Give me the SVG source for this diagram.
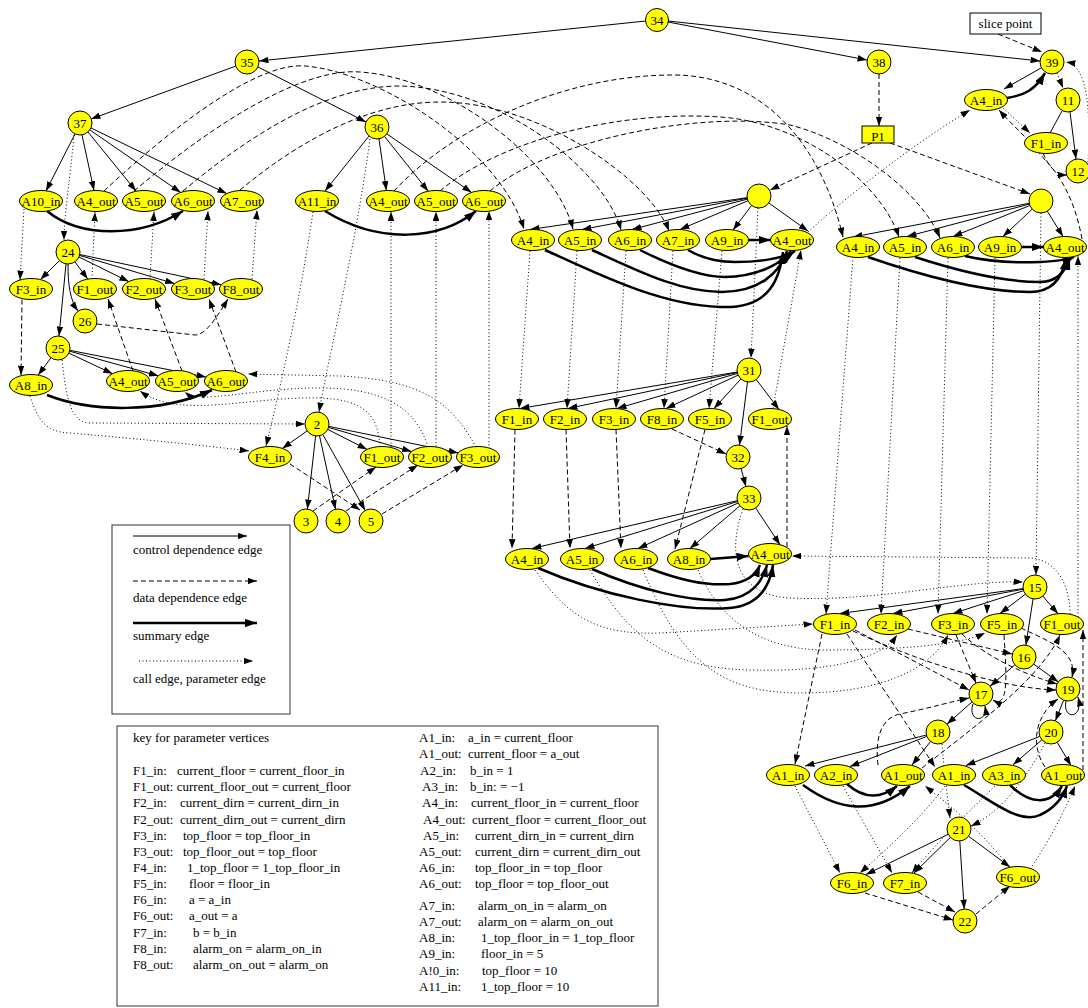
<svg xmlns="http://www.w3.org/2000/svg" width="1088" height="1008" viewBox="0 0 1088 1008">
<defs>
<marker id="ah" viewBox="0 0 10 7" refX="10" refY="3.5" markerWidth="9.5" markerHeight="6.6" markerUnits="userSpaceOnUse" orient="auto"><path d="M0,0 L10,3.5 L0,7 z" fill="#000"/></marker>
<marker id="as" viewBox="0 0 10 7" refX="10" refY="3.5" markerWidth="12" markerHeight="8.4" markerUnits="userSpaceOnUse" orient="auto"><path d="M0,0 L10,3.5 L0,7 z" fill="#000"/></marker>
<style>
.n circle,.n ellipse,.n rect{fill:#ffff00;stroke:#000;stroke-width:1}
.t{font-family:"Liberation Serif","Times New Roman",serif;font-size:13px;text-anchor:middle;fill:#000}
.k{font-family:"Liberation Serif","Times New Roman",serif;font-size:13px;fill:#000}
.c{fill:none;stroke:#000;stroke-width:1;marker-end:url(#ah)}
.c0{fill:none;stroke:#000;stroke-width:1}
.d{fill:none;stroke:#000;stroke-width:1;stroke-dasharray:5,3;marker-end:url(#ah)}
.s{fill:none;stroke:#000;stroke-width:2.5;marker-end:url(#as)}
.p{fill:none;stroke:#000;stroke-width:1;stroke-dasharray:1,2.5;marker-end:url(#ah)}
.box{fill:none;stroke:#333;stroke-width:1}
</style>
</defs>
<rect x="0" y="0" width="1088" height="1008" fill="#fff"/>

<g id="connectors">
<!-- control edges -->
<path class="c" d="M646,21 L259,61"/>
<path class="c" d="M668,22 L867,60"/>
<path class="c" d="M668,21 L1040,61"/>
<path class="c" d="M236,66 L91,119"/>
<path class="c" d="M258,67 L366,122"/>
<path class="c" d="M75,134 L46,191"/>
<path class="c" d="M82,135 L94,190.5"/>
<path class="c" d="M88,132 L136,191"/>
<path class="c" d="M90,130 L180.6,192.4"/>
<path class="c" d="M91,128 L226.7,193.6"/>
<path class="c" d="M369,136 L325,191"/>
<path class="c" d="M379,139 L386.4,190.5"/>
<path class="c" d="M384.5,136.4 L428.2,191.2"/>
<path class="c" d="M387,134 L471.6,192.4"/>
<path class="c" d="M59.5,260.5 L40.4,279.6"/>
<path class="c" d="M75,262 L87.8,279.1"/>
<path class="c" d="M79,257 L128.8,281.6"/>
<path class="c" d="M79.5,255.4 L174.6,283.6"/>
<path class="c" d="M79.7,254.5 L221.3,284.8"/>
<path class="c" d="M68,264 C68,285 70,300 78,311"/>
<path class="c" d="M66,264 L59,336"/>
<path class="c" d="M51,357.7 L38.2,375.1"/>
<path class="c" d="M68.8,353.1 L112.5,373.7"/>
<path class="c" d="M69.6,351.2 L158.3,375.8"/>
<path class="c" d="M69.8,350.3 L206,377"/>
<path class="c" d="M307,431 L282.3,448.4"/>
<path class="c" d="M327.7,429.4 L367.1,449.4"/>
<path class="c" d="M328.5,427.4 L411.5,451.6"/>
<path class="c" d="M328.8,426.4 L458.2,452.9"/>
<path class="c" d="M315.6,436 L307.4,509"/>
<path class="c" d="M319.5,435.7 L335.5,509.3"/>
<path class="c" d="M322.8,434.5 L365.2,510.5"/>
<path class="c" d="M747,197.7 L530,229.5"/>
<path class="c" d="M747.2,198.2 L582,229.5"/>
<path class="c" d="M747.4,199.1 L632,229.5"/>
<path class="c" d="M748,200.7 L680,229.5"/>
<path class="c" d="M751.6,205.5 L733,230"/>
<path class="c" d="M768.8,203 L808,231"/>
<path class="c" d="M1029.2,203.3 L853,237"/>
<path class="c" d="M1029.4,204.1 L907,236.5"/>
<path class="c" d="M1029.9,205.5 L953,236.5"/>
<path class="c" d="M1032.2,209.2 L1003,236.5"/>
<path class="c" d="M1047.3,211.2 L1063,236.5"/>
<path class="c" d="M1041,68 L1004,89"/>
<path class="c0" d="M1062,111 L1050,133"/>
<path class="c" d="M1070,112 L1076,159"/>
<path class="c" d="M737.2,372 L520,408.5"/>
<path class="c" d="M737.3,372.5 L568,408.5"/>
<path class="c" d="M737.5,373.4 L617,408.5"/>
<path class="c" d="M738.1,375.1 L666,408.5"/>
<path class="c" d="M740.9,378.9 L714,408.5"/>
<path class="c" d="M756.3,379.6 L779,409.5"/>
<path class="c" d="M747.5,382 L739.5,445"/>
<path class="c" d="M741.1,468.6 L745.9,486.4"/>
<path class="c" d="M737.3,500.7 L532,548.5"/>
<path class="c" d="M737.5,501.5 L585,548.5"/>
<path class="c" d="M738.1,503 L638,548.5"/>
<path class="c" d="M739.9,505.8 L690,548.5"/>
<path class="c" d="M755.7,508 L780,544.7"/>
<path class="c" d="M1023.1,588.6 L840,613.5"/>
<path class="c" d="M1023.2,589.2 L893,613.5"/>
<path class="c" d="M1023.6,590.7 L953,613.5"/>
<path class="c" d="M1025.4,594.2 L1000,613.5"/>
<path class="c" d="M1042.8,596.1 L1058,613.8"/>
<path class="c" d="M1033.1,598.8 L1025.9,645"/>
<path class="c" d="M1014.9,664.8 L990.1,686.2"/>
<path class="c" d="M1033.7,664.1 L1058.3,681.9"/>
<path class="c" d="M972,701.9 L947,724.1"/>
<path class="c" d="M1063.6,700.2 L1055.4,720.8"/>
<path class="c" d="M973,704 C967,722 988,724 985,706"/>
<path class="c" d="M1066,701 C1062,720 1084,720 1078,697"/>
<path class="c" d="M926.4,735 L805,766"/>
<path class="c" d="M926.8,736.4 L850,766.5"/>
<path class="c" d="M930.6,741.4 L912,765"/>
<path class="c" d="M1039.8,736.4 L966,765.5"/>
<path class="c" d="M1041.9,739.8 L1013,764.8"/>
<path class="c" d="M1057.2,742.3 L1071,765.5"/>
<path class="c" d="M948.2,834.3 L866,874.5"/>
<path class="c" d="M950.4,837.4 L914,873"/>
<path class="c" d="M968.6,836.2 L1010,867"/>
<path class="c" d="M959.8,841 L964.2,909"/>

<!-- summary edges -->
<path class="s" d="M47,211 C80,238 140,238 183,211"/>
<path class="s" d="M325,211 C380,245 440,240 476,211"/>
<path class="s" d="M47,395 C90,412 160,414 212,390"/>
<path class="s" d="M545,250 C600,275 660,305 720,307 C765,309 779,285 783,252"/>
<path class="s" d="M592,250 C640,272 680,292 722,292 C760,292 780,272 787,251"/>
<path class="s" d="M640,250 C670,265 700,277 725,277 C755,277 780,265 791,251"/>
<path class="s" d="M688,250 C700,257 715,262 735,262 C760,262 785,258 795,251"/>
<path class="s" d="M748.5,240 L770.5,240"/>
<path class="s" d="M868,257 C920,275 980,292 1030,292 C1055,292 1063,275 1066,258"/>
<path class="s" d="M915,257 C955,270 1000,282 1040,282 C1058,282 1066,270 1070,258"/>
<path class="s" d="M965,256 C990,262 1015,263 1040,262 C1058,261 1068,260 1074,257"/>
<path class="s" d="M1021.5,247 L1043.5,247"/>
<path class="s" d="M538,568 C600,595 680,612 730,608 C760,605 770,585 773,565"/>
<path class="s" d="M592,569 C640,590 690,602 725,600 C752,598 763,580 767,565"/>
<path class="s" d="M648,568 C680,580 705,586 730,584 C748,582 756,575 760,565"/>
<path class="s" d="M710.5,559 L748.5,556"/>
<path class="s" d="M803,785 C840,812 875,815 910,786"/>
<path class="s" d="M847,784 C865,800 882,798 897,786"/>
<path class="s" d="M964,785 C990,800 1020,825 1040,815 C1055,808 1063,797 1067,786"/>
<path class="s" d="M1010,785 C1030,805 1050,805 1062,786"/>
<path class="s" d="M1007,98 C1025,95 1035,90 1045,73"/>

<!-- data dependence edges -->
<path class="d" d="M879,74 L879,126"/>
<path class="d" d="M872,143 L770,190"/>
<path class="d" d="M890,143 L1030,194"/>
<path class="d" d="M998,34 L1042,52"/>
<path class="d" d="M1043,153 C1048,165 1055,175 1067,175"/>
<path class="d" d="M1082,239 C1075,200 1060,175 1045,160 C1030,140 1012,125 999,110"/>
<path class="d" d="M104,191 C180,120 260,62 305,66 C380,72 500,150 524,229"/>
<path class="d" d="M134,191 C230,110 310,68 360,72 C450,78 555,160 573,229"/>
<path class="d" d="M183,191 C270,118 340,86 400,86 C500,88 605,170 621,230"/>
<path class="d" d="M240,190 C300,140 370,102 440,102 C540,102 650,180 669,231"/>
<path class="d" d="M394,191 C450,130 560,75 673,75 C760,75 820,140 843,237"/>
<path class="d" d="M440,191 C500,140 620,110 720,117 C800,122 880,180 899,237"/>
<path class="d" d="M490,191 C550,140 700,110 790,125 C850,140 920,190 940,238"/>
<path class="d" d="M97,324 L195,335 C205,335 215,320 228,299"/>
<path class="d" d="M22,299.5 L21,375"/>
<path class="d" d="M133,371 L108,299"/>
<path class="d" d="M182,371 L155,299"/>
<path class="d" d="M236,372 L209,299"/>
<path class="d" d="M290,464 L360,510"/>
<path class="d" d="M313,511 L376,467"/>
<path class="d" d="M346,511 L418,465"/>
<path class="d" d="M382,514 L463,465"/>
<path class="d" d="M515,429.5 L512,548.5"/>
<path class="d" d="M566,429.5 L570,548.5"/>
<path class="d" d="M616,429.5 L621,548.5"/>
<path class="d" d="M705,429.5 L675,549"/>
<path class="d" d="M672,429 L726,454"/>
<path class="d" d="M787,547 L787,426"/>
<path class="d" d="M855,630 L969,690"/>
<path class="d" d="M853,631 C920,662 1000,688 1056,690"/>
<path class="d" d="M822,634 L795,764"/>
<path class="d" d="M847,634 L935,767"/>
<path class="d" d="M908,629 L1012,654"/>
<path class="d" d="M956,635 L976,683"/>
<path class="d" d="M962,634 C990,660 1030,676 1057,684"/>
<path class="d" d="M1004,635 C1006,670 1010,710 993,700"/>
<path class="d" d="M1021,628 C1045,640 1078,650 1072,677"/>
<path class="d" d="M878,765 C875,740 880,718 900,714 C930,708 950,702 969,698"/>
<path class="d" d="M922,768 C970,730 1040,680 1060,635"/>
<path class="d" d="M1083,770 L1083,630"/>
<path class="d" d="M1045,767 C1030,745 1035,715 1058,699"/>
<path class="d" d="M865,893 L953,920"/>
<path class="d" d="M918,892 L955,912"/>
<path class="d" d="M976,914 L1010,886"/>

<!-- call / parameter edges -->
<path class="p" d="M1057,73 L1063,88"/>
<path class="p" d="M1003,108 L1030,133"/>
<path class="p" d="M1088,162 C1090,120 1090,66 1066,62"/>
<path class="p" d="M808,232 C860,185 920,140 970,110"/>
<path class="p" d="M758,208 L751,358"/>
<path class="p" d="M1041,213 L1036,575"/>
<path class="p" d="M530,251 L519,408.5"/>
<path class="p" d="M577,251 L567,408.5"/>
<path class="p" d="M626,251 L616,408.5"/>
<path class="p" d="M673,251 L664,408.5"/>
<path class="p" d="M722,251 L709,408.5"/>
<path class="p" d="M773,408.5 L801,250"/>
<path class="p" d="M853,257 L826,614"/>
<path class="p" d="M900,258 L881,614"/>
<path class="p" d="M948,258 L938,614"/>
<path class="p" d="M995,258 L987,614"/>
<path class="p" d="M1078,617 L1078,256"/>
<path class="p" d="M1070,614 C1070,590 1060,560 1030,558 L792,556"/>
<path class="p" d="M743,509 C725,560 740,595 790,598 C880,602 960,580 1023,582"/>
<path class="p" d="M535,570 C570,620 600,635 660,633 L813,624"/>
<path class="p" d="M590,570 C630,640 670,668 750,670 C830,672 880,660 897,635"/>
<path class="p" d="M643,570 C680,660 720,693 800,693 C880,693 930,670 948,635"/>
<path class="p" d="M698,570 C720,620 760,648 820,650 C900,650 960,645 985,633"/>
<path class="p" d="M74,135 C70,180 64,215 64,240"/>
<path class="p" d="M24,209 L20,280"/>
<path class="p" d="M92,279 L95,212"/>
<path class="p" d="M150,279 L154,211.5"/>
<path class="p" d="M204,279 L208,211"/>
<path class="p" d="M252,279 L257,210"/>
<path class="p" d="M62,360 C66,395 70,423 90,423 L305,424"/>
<path class="p" d="M30,396 C38,420 45,432 70,433 C150,440 200,445 249,451"/>
<path class="p" d="M370,139 C355,250 330,350 319,412"/>
<path class="p" d="M313,212 C300,300 280,390 266,446"/>
<path class="p" d="M391,447 L391,211.5"/>
<path class="p" d="M436,446.5 L436,211.5"/>
<path class="p" d="M489,449 L489,211"/>
<path class="p" d="M380,447 C378,415 365,400 320,398 C250,396 180,420 140,391"/>
<path class="p" d="M428,447 C415,405 380,388 320,388 C250,388 200,405 185,392"/>
<path class="p" d="M476,447 C450,400 420,380 340,376 L248,374"/>
<path class="p" d="M942,744 C945,780 948,800 950,818"/>
<path class="p" d="M1045,743 C1020,790 995,815 971,826"/>
<path class="p" d="M795,786 L840,873"/>
<path class="p" d="M843,786 L892,873"/>
<path class="p" d="M1010,868 C980,830 950,805 925,786"/>
<path class="p" d="M1030,869 C1050,840 1065,810 1075,786"/>
<path class="p" d="M945,786 C920,820 880,855 860,873"/>
<path class="p" d="M995,786 C960,820 930,850 912,873"/>
</g>

<!-- circle nodes -->
<g id="n34" class="n"><circle cx="657" cy="20" r="11.5"/><text class="t" x="657" y="24.5">34</text></g>
<g id="n35" class="n"><circle cx="247" cy="62" r="12"/><text class="t" x="247" y="66.5">35</text></g>
<g id="n37" class="n"><circle cx="80" cy="123" r="12"/><text class="t" x="80" y="127.5">37</text></g>
<g id="n36" class="n"><circle cx="377" cy="127" r="12"/><text class="t" x="377" y="131.5">36</text></g>
<g id="n38" class="n"><circle cx="879" cy="62" r="12"/><text class="t" x="879" y="66.5">38</text></g>
<g id="n39" class="n"><circle cx="1052" cy="62" r="12"/><text class="t" x="1052" y="66.5">39</text></g>
<g id="n11" class="n"><circle cx="1068" cy="100" r="12"/><text class="t" x="1068" y="104.5">11</text></g>
<g id="n12" class="n"><circle cx="1078" cy="171" r="12"/><text class="t" x="1078" y="175.5">12</text></g>
<g id="c1" class="n"><circle cx="759" cy="196" r="12"/></g>
<g id="c2" class="n"><circle cx="1041" cy="201" r="12"/></g>
<g id="n24" class="n"><circle cx="68" cy="252" r="12"/><text class="t" x="68" y="256.5">24</text></g>
<g id="n26" class="n"><circle cx="85" cy="321" r="12"/><text class="t" x="85" y="325.5">26</text></g>
<g id="n25" class="n"><circle cx="58" cy="348" r="12"/><text class="t" x="58" y="352.5">25</text></g>
<g id="n2" class="n"><circle cx="317" cy="424" r="12"/><text class="t" x="317" y="428.5">2</text></g>
<g id="n3" class="n"><circle cx="306" cy="521" r="12"/><text class="t" x="306" y="525.5">3</text></g>
<g id="n4" class="n"><circle cx="338" cy="521" r="12"/><text class="t" x="338" y="525.5">4</text></g>
<g id="n5" class="n"><circle cx="371" cy="521" r="12"/><text class="t" x="371" y="525.5">5</text></g>
<g id="n31" class="n"><circle cx="749" cy="370" r="12"/><text class="t" x="749" y="374.5">31</text></g>
<g id="n32" class="n"><circle cx="738" cy="457" r="12"/><text class="t" x="738" y="461.5">32</text></g>
<g id="n33" class="n"><circle cx="749" cy="498" r="12"/><text class="t" x="749" y="502.5">33</text></g>
<g id="n15" class="n"><circle cx="1035" cy="587" r="12"/><text class="t" x="1035" y="591.5">15</text></g>
<g id="n16" class="n"><circle cx="1024" cy="657" r="12"/><text class="t" x="1024" y="661.5">16</text></g>
<g id="n17" class="n"><circle cx="981" cy="694" r="12"/><text class="t" x="981" y="698.5">17</text></g>
<g id="n19" class="n"><circle cx="1068" cy="689" r="12"/><text class="t" x="1068" y="693.5">19</text></g>
<g id="n18" class="n"><circle cx="938" cy="732" r="12"/><text class="t" x="938" y="736.5">18</text></g>
<g id="n20" class="n"><circle cx="1051" cy="732" r="12"/><text class="t" x="1051" y="736.5">20</text></g>
<g id="n21" class="n"><circle cx="959" cy="829" r="12"/><text class="t" x="959" y="833.5">21</text></g>
<g id="n22" class="n"><circle cx="965" cy="921" r="12"/><text class="t" x="965" y="925.5">22</text></g>

<g id="p1" class="n"><rect x="862" y="126" width="32" height="17"/><text class="t" x="878" y="141">P1</text></g>
<g id="slice"><rect x="970" y="13" width="71" height="21" fill="#fff" stroke="#000"/><text class="t" x="1005.5" y="28">slice point</text></g>

<!-- parameter vertices -->
<g id="a10in_37" class="n"><ellipse cx="41" cy="201" rx="21.5" ry="10.5"/><text class="t" x="41" y="205.5">A10_in</text></g>
<g id="a4out_37" class="n"><ellipse cx="96" cy="201" rx="21.5" ry="10.5"/><text class="t" x="96" y="205.5">A4_out</text></g>
<g id="a5out_37" class="n"><ellipse cx="144" cy="201" rx="21.5" ry="10.5"/><text class="t" x="144" y="205.5">A5_out</text></g>
<g id="a6out_37" class="n"><ellipse cx="193" cy="201" rx="21.5" ry="10.5"/><text class="t" x="193" y="205.5">A6_out</text></g>
<g id="a7out_37" class="n"><ellipse cx="242" cy="201" rx="21.5" ry="10.5"/><text class="t" x="242" y="205.5">A7_out</text></g>
<g id="a11in_36" class="n"><ellipse cx="317" cy="201" rx="21.5" ry="10.5"/><text class="t" x="317" y="205.5">A11_in</text></g>
<g id="a4out_36" class="n"><ellipse cx="388" cy="201" rx="21.5" ry="10.5"/><text class="t" x="388" y="205.5">A4_out</text></g>
<g id="a5out_36" class="n"><ellipse cx="436" cy="201" rx="21.5" ry="10.5"/><text class="t" x="436" y="205.5">A5_out</text></g>
<g id="a6out_36" class="n"><ellipse cx="484" cy="201" rx="21.5" ry="10.5"/><text class="t" x="484" y="205.5">A6_out</text></g>

<g id="f3in_24" class="n"><ellipse cx="31" cy="289" rx="21.5" ry="10.5"/><text class="t" x="31" y="293.5">F3_in</text></g>
<g id="f1out_24" class="n"><ellipse cx="95" cy="289" rx="21.5" ry="10.5"/><text class="t" x="95" y="293.5">F1_out</text></g>
<g id="f2out_24" class="n"><ellipse cx="144" cy="289" rx="21.5" ry="10.5"/><text class="t" x="144" y="293.5">F2_out</text></g>
<g id="f3out_24" class="n"><ellipse cx="193" cy="289" rx="21.5" ry="10.5"/><text class="t" x="193" y="293.5">F3_out</text></g>
<g id="f8out_24" class="n"><ellipse cx="241" cy="289" rx="21.5" ry="10.5"/><text class="t" x="241" y="293.5">F8_out</text></g>

<g id="a8in_25" class="n"><ellipse cx="31" cy="385" rx="21.5" ry="10.5"/><text class="t" x="31" y="389.5">A8_in</text></g>
<g id="a4out_25" class="n"><ellipse cx="128" cy="381" rx="21.5" ry="10.5"/><text class="t" x="128" y="385.5">A4_out</text></g>
<g id="a5out_25" class="n"><ellipse cx="177" cy="381" rx="21.5" ry="10.5"/><text class="t" x="177" y="385.5">A5_out</text></g>
<g id="a6out_25" class="n"><ellipse cx="226" cy="381" rx="21.5" ry="10.5"/><text class="t" x="226" y="385.5">A6_out</text></g>

<g id="f4in_2" class="n"><ellipse cx="270" cy="457" rx="21.5" ry="10.5"/><text class="t" x="270" y="461.5">F4_in</text></g>
<g id="f1out_2" class="n"><ellipse cx="382" cy="457" rx="21.5" ry="10.5"/><text class="t" x="382" y="461.5">F1_out</text></g>
<g id="f2out_2" class="n"><ellipse cx="430" cy="457" rx="21.5" ry="10.5"/><text class="t" x="430" y="461.5">F2_out</text></g>
<g id="f3out_2" class="n"><ellipse cx="478" cy="457" rx="21.5" ry="10.5"/><text class="t" x="478" y="461.5">F3_out</text></g>

<g id="a4in_c1" class="n"><ellipse cx="533" cy="240" rx="21.5" ry="10.5"/><text class="t" x="533" y="244.5">A4_in</text></g>
<g id="a5in_c1" class="n"><ellipse cx="580" cy="240" rx="21.5" ry="10.5"/><text class="t" x="580" y="244.5">A5_in</text></g>
<g id="a6in_c1" class="n"><ellipse cx="630" cy="240" rx="21.5" ry="10.5"/><text class="t" x="630" y="244.5">A6_in</text></g>
<g id="a7in_c1" class="n"><ellipse cx="678" cy="240" rx="21.5" ry="10.5"/><text class="t" x="678" y="244.5">A7_in</text></g>
<g id="a9in_c1" class="n"><ellipse cx="727" cy="240" rx="21.5" ry="10.5"/><text class="t" x="727" y="244.5">A9_in</text></g>
<g id="a4out_c1" class="n"><ellipse cx="792" cy="240" rx="21.5" ry="10.5"/><text class="t" x="792" y="244.5">A4_out</text></g>

<g id="a4in_c2" class="n"><ellipse cx="858" cy="247" rx="21.5" ry="10.5"/><text class="t" x="858" y="251.5">A4_in</text></g>
<g id="a5in_c2" class="n"><ellipse cx="905" cy="247" rx="21.5" ry="10.5"/><text class="t" x="905" y="251.5">A5_in</text></g>
<g id="a6in_c2" class="n"><ellipse cx="953" cy="247" rx="21.5" ry="10.5"/><text class="t" x="953" y="251.5">A6_in</text></g>
<g id="a9in_c2" class="n"><ellipse cx="1000" cy="247" rx="21.5" ry="10.5"/><text class="t" x="1000" y="251.5">A9_in</text></g>
<g id="a4out_c2" class="n"><ellipse cx="1065" cy="247" rx="21.5" ry="10.5"/><text class="t" x="1065" y="251.5">A4_out</text></g>

<g id="a4in_39" class="n"><ellipse cx="986" cy="100" rx="21.5" ry="10.5"/><text class="t" x="986" y="104.5">A4_in</text></g>
<g id="f1in_11" class="n"><ellipse cx="1046" cy="143" rx="21.5" ry="10.5"/><text class="t" x="1046" y="147.5">F1_in</text></g>

<g id="f1in_31" class="n"><ellipse cx="517" cy="419" rx="21.5" ry="10.5"/><text class="t" x="517" y="423.5">F1_in</text></g>
<g id="f2in_31" class="n"><ellipse cx="565" cy="419" rx="21.5" ry="10.5"/><text class="t" x="565" y="423.5">F2_in</text></g>
<g id="f3in_31" class="n"><ellipse cx="614" cy="419" rx="21.5" ry="10.5"/><text class="t" x="614" y="423.5">F3_in</text></g>
<g id="f8in_31" class="n"><ellipse cx="662" cy="419" rx="21.5" ry="10.5"/><text class="t" x="662" y="423.5">F8_in</text></g>
<g id="f5in_31" class="n"><ellipse cx="710" cy="419" rx="21.5" ry="10.5"/><text class="t" x="710" y="423.5">F5_in</text></g>
<g id="f1out_31" class="n"><ellipse cx="770" cy="419" rx="21.5" ry="10.5"/><text class="t" x="770" y="423.5">F1_out</text></g>

<g id="a4in_33" class="n"><ellipse cx="527" cy="559" rx="21.5" ry="10.5"/><text class="t" x="527" y="563.5">A4_in</text></g>
<g id="a5in_33" class="n"><ellipse cx="582" cy="559" rx="21.5" ry="10.5"/><text class="t" x="582" y="563.5">A5_in</text></g>
<g id="a6in_33" class="n"><ellipse cx="636" cy="559" rx="21.5" ry="10.5"/><text class="t" x="636" y="563.5">A6_in</text></g>
<g id="a8in_33" class="n"><ellipse cx="689" cy="559" rx="21.5" ry="10.5"/><text class="t" x="689" y="563.5">A8_in</text></g>
<g id="a4out_33" class="n"><ellipse cx="770" cy="554" rx="21.5" ry="10.5"/><text class="t" x="770" y="558.5">A4_out</text></g>

<g id="f1in_15" class="n"><ellipse cx="835" cy="624" rx="21.5" ry="10.5"/><text class="t" x="835" y="628.5">F1_in</text></g>
<g id="f2in_15" class="n"><ellipse cx="889" cy="624" rx="21.5" ry="10.5"/><text class="t" x="889" y="628.5">F2_in</text></g>
<g id="f3in_15" class="n"><ellipse cx="953" cy="624" rx="21.5" ry="10.5"/><text class="t" x="953" y="628.5">F3_in</text></g>
<g id="f5in_15" class="n"><ellipse cx="1002" cy="624" rx="21.5" ry="10.5"/><text class="t" x="1002" y="628.5">F5_in</text></g>
<g id="f1out_15" class="n"><ellipse cx="1062" cy="624" rx="21.5" ry="10.5"/><text class="t" x="1062" y="628.5">F1_out</text></g>

<g id="a1in_18" class="n"><ellipse cx="788" cy="775" rx="21.5" ry="10.5"/><text class="t" x="788" y="779.5">A1_in</text></g>
<g id="a2in_18" class="n"><ellipse cx="836" cy="775" rx="21.5" ry="10.5"/><text class="t" x="836" y="779.5">A2_in</text></g>
<g id="a1out_18" class="n"><ellipse cx="903" cy="775" rx="21.5" ry="10.5"/><text class="t" x="903" y="779.5">A1_out</text></g>
<g id="a1in_20" class="n"><ellipse cx="954" cy="775" rx="21.5" ry="10.5"/><text class="t" x="954" y="779.5">A1_in</text></g>
<g id="a3in_20" class="n"><ellipse cx="1004" cy="775" rx="21.5" ry="10.5"/><text class="t" x="1004" y="779.5">A3_in</text></g>
<g id="a1out_20" class="n"><ellipse cx="1063" cy="775" rx="21.5" ry="10.5"/><text class="t" x="1063" y="779.5">A1_out</text></g>

<g id="f6in_21" class="n"><ellipse cx="852" cy="883" rx="21.5" ry="10.5"/><text class="t" x="852" y="887.5">F6_in</text></g>
<g id="f7in_21" class="n"><ellipse cx="905" cy="883" rx="21.5" ry="10.5"/><text class="t" x="905" y="887.5">F7_in</text></g>
<g id="f6out_21" class="n"><ellipse cx="1018" cy="877" rx="21.5" ry="10.5"/><text class="t" x="1018" y="881.5">F6_out</text></g>

<!-- legend -->
<g id="legend">
<rect class="box" x="112" y="525" width="178" height="189"/>
<path class="c" d="M133,536 L247,536"/>
<text class="k" x="133" y="554">control dependence edge</text>
<path class="d" d="M133,581 L257,581"/>
<text class="k" x="133" y="602">data dependence edge</text>
<path class="s" d="M133,623 L257,623"/>
<text class="k" x="133" y="640">summary edge</text>
<path class="p" d="M139,661 L253,661"/>
<text class="k" x="133" y="683">call edge, parameter edge</text>
</g>

<g id="key">
<rect class="box" x="117" y="726" width="541" height="280"/>
<text class="k" x="133" y="742">key for parameter vertices</text>
<text class="k" x="133" y="775">F1_in:</text><text class="k" x="177" y="775">current_floor = current_floor_in</text>
<text class="k" x="133" y="791">F1_out: current_floor_out = current_floor</text>
<text class="k" x="133" y="807">F2_in:</text><text class="k" x="180" y="807">current_dirn = current_dirn_in</text>
<text class="k" x="133" y="824">F2_out:</text><text class="k" x="180" y="824">current_dirn_out = current_dirn</text>
<text class="k" x="133" y="840">F3_in:</text><text class="k" x="183" y="840">top_floor = top_floor_in</text>
<text class="k" x="133" y="856">F3_out:</text><text class="k" x="183" y="856">top_floor_out = top_floor</text>
<text class="k" x="133" y="872">F4_in:</text><text class="k" x="187" y="872">1_top_floor = 1_top_floor_in</text>
<text class="k" x="133" y="888">F5_in:</text><text class="k" x="189" y="888">floor = floor_in</text>
<text class="k" x="133" y="904">F6_in:</text><text class="k" x="189" y="904">a = a_in</text>
<text class="k" x="133" y="920">F6_out:</text><text class="k" x="189" y="920">a_out = a</text>
<text class="k" x="133" y="937">F7_in:</text><text class="k" x="193" y="937">b = b_in</text>
<text class="k" x="133" y="953">F8_in:</text><text class="k" x="193" y="953">alarm_on = alarm_on_in</text>
<text class="k" x="133" y="969">F8_out:</text><text class="k" x="193" y="969">alarm_on_out = alarm_on</text>

<text class="k" x="419" y="742">A1_in:</text><text class="k" x="468" y="742">a_in = current_floor</text>
<text class="k" x="419" y="758">A1_out:</text><text class="k" x="468" y="758">current_floor = a_out</text>
<text class="k" x="420" y="775">A2_in:</text><text class="k" x="470" y="775">b_in = 1</text>
<text class="k" x="422" y="791">A3_in:</text><text class="k" x="470" y="791">b_in: = &#8722;1</text>
<text class="k" x="422" y="807">A4_in:</text><text class="k" x="471" y="807">current_floor_in = current_floor</text>
<text class="k" x="423" y="824">A4_out:</text><text class="k" x="472" y="824">current_floor = current_floor_out</text>
<text class="k" x="423" y="840">A5_in:</text><text class="k" x="475" y="840">current_dirn_in = current_dirn</text>
<text class="k" x="419" y="856">A5_out:</text><text class="k" x="475" y="856">current_dirn = current_dirn_out</text>
<text class="k" x="419" y="872">A6_in:</text><text class="k" x="475" y="872">top_floor_in  = top_floor</text>
<text class="k" x="419" y="888">A6_out:</text><text class="k" x="475" y="888">top_floor = top_floor_out</text>
<text class="k" x="419" y="910">A7_in:</text><text class="k" x="478" y="910">alarm_on_in = alarm_on</text>
<text class="k" x="419" y="926">A7_out:</text><text class="k" x="478" y="926">alarm_on = alarm_on_out</text>
<text class="k" x="419" y="942">A8_in:</text><text class="k" x="481" y="942">1_top_floor_in = 1_top_floor</text>
<text class="k" x="419" y="958">A9_in:</text><text class="k" x="481" y="958">floor_in = 5</text>
<text class="k" x="419" y="975">A!0_in:</text><text class="k" x="482" y="975">top_floor = 10</text>
<text class="k" x="419" y="991">A11_in:</text><text class="k" x="481" y="991">1_top_floor = 10</text>
</g>
</svg>
